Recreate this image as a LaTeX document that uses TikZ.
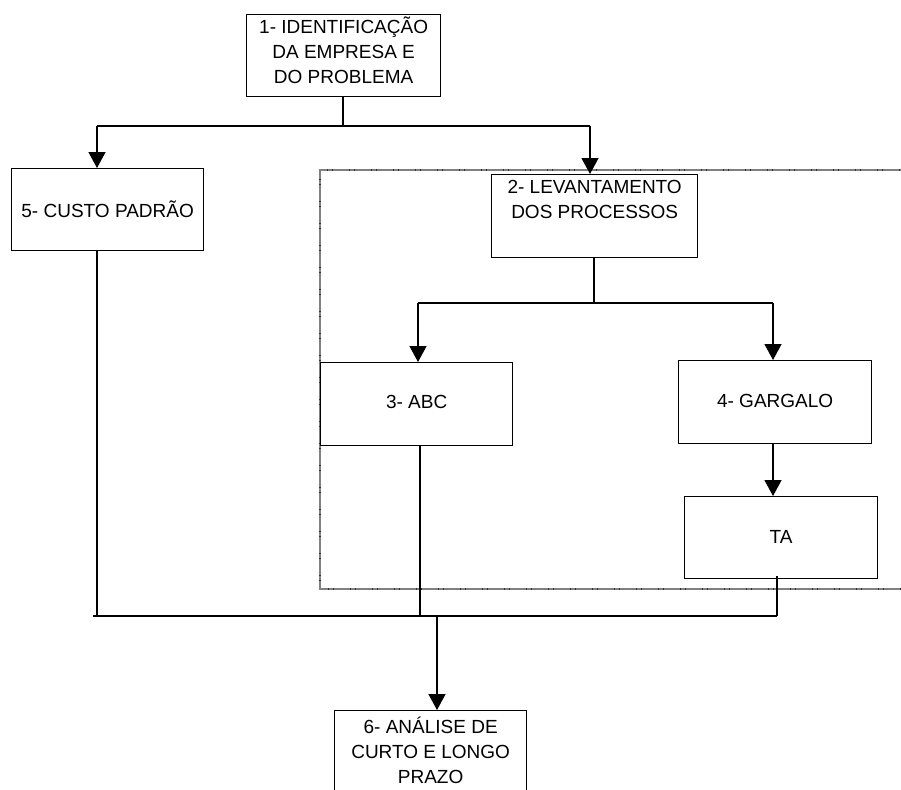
\documentclass[tikz,border=0pt]{standalone}
\usepackage{fontspec}
\setmainfont{Liberation Sans}
\usetikzlibrary{arrows.meta}

% box contents: width, height, first-baseline depth, lines
\newcommand{\boxtext}[4]{\parbox[c][#2pt][t]{#1pt}{\centering\rule{0pt}{#3pt}#4}}

\begin{document}
\begin{tikzpicture}[x=1pt,y=-1pt,
  every node/.style={font=\fontsize{19}{25}\selectfont},
  stepbox/.style={draw, line width=1.3pt, inner sep=0pt, anchor=north west},
  link/.style={line width=1.3pt},
  arrowlink/.style={line width=1.3pt, -{Triangle[width=17pt,length=16pt]}},
  frameline/.style={draw=black!50, line width=1.5pt},
  frameticks/.style={draw=black!80, line width=1.5pt, dash pattern=on 1pt off 4pt on 1pt off 16pt}
]
\useasboundingbox (0,0) rectangle (901,789);
\fill[white] (0,0) rectangle (901,789);

% dotted frame around the process-survey branch
\draw[frameline] (905,170) -- (320,170) -- (320,589) -- (905,589);
\draw[frameticks] (905,170) -- (320,170) -- (320,589) -- (905,589);

% boxes
\node[stepbox] (b1) at (246,14) {\boxtext{194}{82}{19}{1- IDENTIFICAÇÃO\\DA EMPRESA E\\DO PROBLEMA}};
\node[stepbox] (b5) at (11,168) {\boxtext{192}{82}{49}{5- CUSTO PADRÃO}};
\node[stepbox] (b2) at (491,174) {\boxtext{206}{83}{19}{2- LEVANTAMENTO\\DOS PROCESSOS}};
\node[stepbox] (b3) at (320,362) {\boxtext{192}{83}{46}{3- ABC}};
\node[stepbox] (b4) at (678,360) {\boxtext{193}{83}{47}{4- GARGALO}};
\node[stepbox] (bta) at (684,496) {\boxtext{193}{82}{47}{TA}};
\node[stepbox] (b6) at (334,710) {\boxtext{192}{82}{23}{6- ANÁLISE DE\\CURTO E LONGO\\PRAZO}};

% junction points
\coordinate (t1) at (343,126);
\coordinate (t1l) at (97,126);
\coordinate (t1r) at (590,126);
\coordinate (t2) at (594,303);
\coordinate (t2l) at (418,303);
\coordinate (t2r) at (773,303);
\coordinate (c5) at (97,616);
\coordinate (c3) at (420,616);
\coordinate (cta) at (777,616);
\coordinate (cl) at (93,616);
\coordinate (c6) at (437,616);

% top split
\draw[link] (b1.south -| t1) -- (t1);
\draw[link] (t1l) -- (t1r);
\draw[arrowlink] (t1l) -- (t1l |- b5.north);
\draw[arrowlink] (t1r) -- (t1r |- b2.north);

% process split
\draw[link] (b2.south -| t2) -- (t2);
\draw[link] (t2l) -- (t2r);
\draw[arrowlink] (t2l) -- (t2l |- b3.north);
\draw[arrowlink] (t2r) -- (t2r |- b4.north);
\draw[arrowlink] (b4.south -| t2r) -- (t2r |- bta.north);

% merge towards the analysis
\draw[link] (b5.south -| c5) -- (c5);
\draw[link] (b3.south -| c3) -- (c3);
\draw[link] ([yshift=3pt]bta.south -| cta) -- (cta);
\draw[link] (cl) -- (cta);
\draw[arrowlink] (c6) -- (c6 |- b6.north);
\end{tikzpicture}
\end{document}
